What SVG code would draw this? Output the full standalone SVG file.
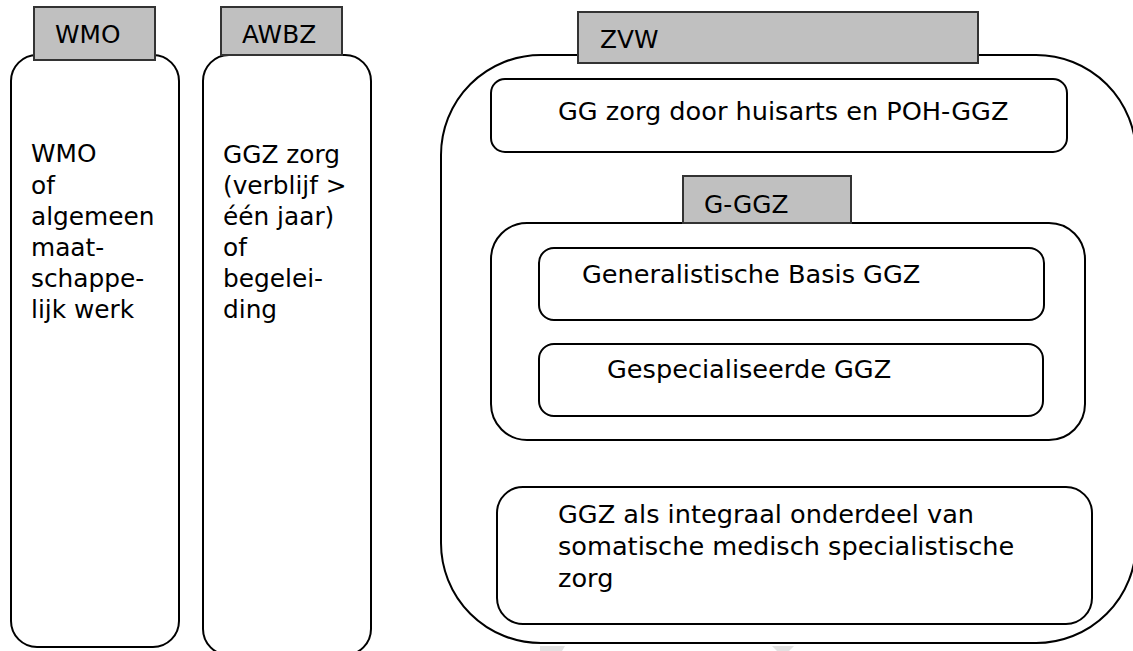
<svg xmlns="http://www.w3.org/2000/svg" width="1133" height="651" viewBox="0 0 1133 651">
<style>
.box{fill:#fff;stroke:#000;stroke-width:2}
.tab{fill:#c0c0c0;stroke:#333;stroke-width:2}
text{font-family:"DejaVu Sans",Verdana,sans-serif;font-size:24.8px;fill:#000}
.r{font-size:25.6px}
.wm{fill:#e2e2e2}
</style>
<rect width="1133" height="651" fill="#fff"/>
<g id="wmo">
<rect class="box" x="11" y="55" width="168" height="592" rx="26" ry="26"/>
<rect class="tab" x="34" y="7" width="121" height="53"/>
<text x="55" y="43">WMO</text>
<text x="31" y="162">WMO</text>
<text x="31" y="194">of</text>
<text x="31" y="225">algemeen</text>
<text x="31" y="256">maat-</text>
<text x="31" y="287">schappe-</text>
<text x="31" y="318">lijk werk</text>
</g>
<g id="awbz">
<rect class="box" x="203" y="55" width="168" height="600" rx="26" ry="26"/>
<rect class="tab" x="221" y="7" width="121" height="48"/>
<text x="242" y="43">AWBZ</text>
<text x="223" y="163">GGZ zorg</text>
<text x="223" y="194">(verblijf &gt;</text>
<text x="223" y="225">één jaar)</text>
<text x="223" y="256">of</text>
<text x="223" y="287">begelei-</text>
<text x="223" y="318">ding</text>
</g>
<g id="zvw">
<rect class="box" x="441" y="55" width="695" height="588" rx="100" ry="100"/>
<rect class="tab" x="578" y="12" width="400" height="51"/>
<text x="600" y="48">ZVW</text>
</g>
<g id="gg-huisarts">
<rect class="box" x="491" y="79" width="576" height="73" rx="14" ry="14"/>
<text class="r" x="558" y="120">GG zorg door huisarts en POH-GGZ</text>
</g>
<g id="g-ggz">
<rect class="box" x="491" y="223" width="594" height="217" rx="36" ry="36"/>
<rect class="tab" x="683" y="176" width="168" height="47"/>
<text x="704" y="213">G-GGZ</text>
</g>
<g id="generalistische">
<rect class="box" x="539" y="248" width="505" height="72" rx="15" ry="15"/>
<text class="r" x="582" y="283">Generalistische Basis GGZ</text>
</g>
<g id="gespecialiseerde">
<rect class="box" x="539" y="344" width="504" height="72" rx="15" ry="15"/>
<text class="r" x="607" y="378">Gespecialiseerde GGZ</text>
</g>
<g id="integraal">
<rect class="box" x="497" y="487" width="595" height="137" rx="26" ry="26"/>
<text class="r" x="558" y="523">GGZ als integraal onderdeel van</text>
<text class="r" x="558" y="555">somatische medisch specialistische</text>
<text class="r" x="558" y="587">zorg</text>
</g>
<g id="connectors"></g>
<path class="wm" d="M540 646 L565 646 L562 651 L540 651 Z"/>
<path class="wm" d="M772 646 L794 646 L789 651 L777 651 Z"/>
</svg>
